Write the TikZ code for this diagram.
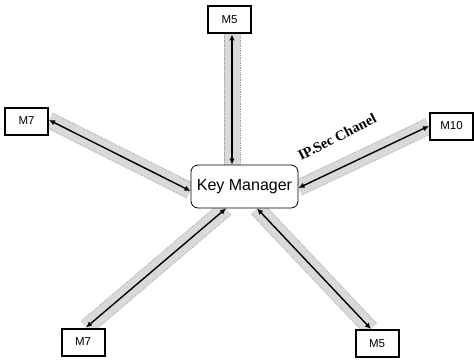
\documentclass[tikz,border=0pt]{standalone}
\usepackage{fontspec}
\setmainfont{Liberation Serif}
\newfontfamily\boxfont{Liberation Sans}
\usetikzlibrary{arrows.meta,backgrounds,calc}
\begin{document}
\begin{tikzpicture}[x=1pt,y=-1pt,
  mbox/.style={draw=black,line width=2pt,fill=white,minimum width=43pt,minimum height=27pt,inner sep=0pt,font=\boxfont\fontsize{11.5}{12}\selectfont},
  kmbox/.style={draw=black,line width=0.8pt,fill=white,rounded corners=7pt,minimum width=107pt,minimum height=43pt,inner sep=0pt,font=\boxfont\fontsize{16}{18}\selectfont},
  bandfill/.style={fill=gray!30},
  bandedge/.style={draw=gray!75,line width=0.7pt,densely dotted},
  arr/.style={line width=1.4pt,{Latex[length=6pt,width=5.5pt]}-{Latex[length=6pt,width=5.5pt]}}]
\useasboundingbox (0,0) rectangle (474,361);
% nodes
\node[kmbox] (km) at (244.5,186.5) {Key Manager};
\node[mbox] (m5t) at (229.5,20) {M5};
\node[mbox] (m7l) at (26.5,121) {M7};
\node[mbox] (m10) at (451.5,126) {M10};
\node[mbox] (m7b) at (83,342) {M7};
\node[mbox] (m5b) at (377,343.5) {M5};
% endpoints
\coordinate (a1) at ([xshift=2.5pt]m5t.south);
\coordinate (b1) at ([xshift=-12.5pt]km.north);
\coordinate (a2) at ([yshift=1pt]m7l.east);
\coordinate (b2) at ([yshift=-4.5pt]km.west);
\coordinate (a3) at (m10.west);
\coordinate (b3) at ([yshift=-1.5pt]km.east);
\coordinate (a4) at ([xshift=3pt]m7b.north);
\coordinate (b4) at ([xshift=-18.5pt]km.south);
\coordinate (a5) at ([xshift=-6pt]m5b.north);
\coordinate (b5) at ([xshift=12.5pt]km.south);
% bands
\begin{pgfonlayer}{background}
\path[fill=white] (0,0) rectangle (474,361);
\foreach \i in {1,...,5} {
  \path[bandfill] ($(a\i)!8pt!90:(b\i)$) -- ($(b\i)!8pt!-90:(a\i)$) -- ($(b\i)!8pt!90:(a\i)$) -- ($(a\i)!8pt!-90:(b\i)$) -- cycle;
  \draw[bandedge] ($(a\i)!8pt!90:(b\i)$) -- ($(b\i)!8pt!-90:(a\i)$);
  \draw[bandedge] ($(a\i)!8pt!-90:(b\i)$) -- ($(b\i)!8pt!90:(a\i)$);
}
\end{pgfonlayer}
% arrows
\foreach \i in {1,...,5} {\draw[arr] (a\i) -- (b\i);}
% label
\node[rotate=27,font=\bfseries\fontsize{14.5}{15}\selectfont,inner sep=0pt] (lab) at (337,137) {IP.Sec Chanel};
\end{tikzpicture}
\end{document}
